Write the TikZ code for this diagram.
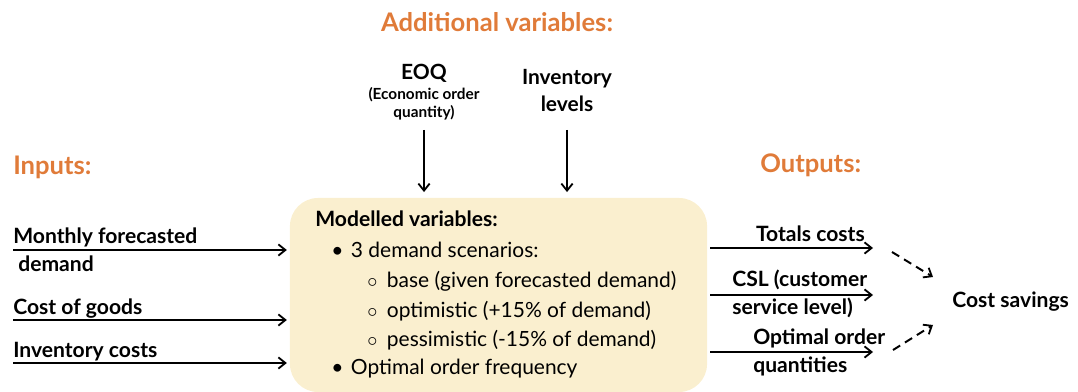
\documentclass[tikz,border=0pt]{standalone}
\usepackage{fontspec}
\setmainfont{Lato}
\usepackage{tikz}
\usetikzlibrary{arrows.meta,positioning}
\definecolor{hdorange}{HTML}{E07B39}
\definecolor{boxcream}{HTML}{FAEFCF}
\tikzset{
  hdtxt/.style={anchor=base west,inner sep=0pt,text=hdorange,font=\fontsize{18.2}{21}\selectfont\bfseries},
  lbltxt/.style={anchor=base west,inner sep=0pt,font=\fontsize{15}{18}\selectfont\bfseries},
  toptxt/.style={anchor=base,inner sep=0pt,font=\fontsize{14.9}{18}\selectfont\bfseries},
  subtxt/.style={anchor=base,inner sep=0pt,font=\fontsize{10.9}{13}\selectfont\bfseries},
  itemtxt/.style={anchor=base west,inner sep=0pt,font=\fontsize{14.9}{18}\selectfont},
  modbox/.style={fill=boxcream,rounded corners=20pt,minimum width=10.425cm,minimum height=4.85cm,inner sep=0pt},
  diredge/.style={-{Straight Barb[length=5pt,width=8pt,line width=1.3pt]},line width=1.4pt,black},
  dashedge/.style={diredge,dashed,dash pattern=on 6pt off 4pt},
}
\newcommand{\itemmark}[1]{\makebox[14pt][l]{#1}}
\begin{document}
\begin{tikzpicture}[x=0.025cm,y=-0.025cm]
  \useasboundingbox (0,0) rectangle (1078,392);
  \node[modbox] (mbox) at (498.5,295) {};
  \node[hdtxt,anchor=base] (hAdd) at (497,32) {Additional variables:};
  \node[hdtxt] (hIn) at (13,175) {Inputs:};
  \node[hdtxt] (hOut) at (760,173) {Outputs:};
  \node[toptxt] (nEOQ) at (424,80) {EOQ};
  \node[subtxt] (nEOQa) at (424,100) {(Economic order};
  \node[subtxt] (nEOQb) at (424,118) {quantity)};
  \node[toptxt] (nInvA) at (567,85) {Inventory};
  \node[toptxt] (nInvB) at (567,112) {levels};
  \node[lbltxt] (mHead) at (315,227) {Modelled variables:};
  \node[itemtxt] (mItA) at (331,258) {\itemmark{\textbullet}3 demand scenarios:};
  \node[itemtxt] (mSubA) at (367,288) {\itemmark{$\circ$}base (given forecasted demand)};
  \node[itemtxt] (mSubB) at (367,318) {\itemmark{$\circ$}optimistic (+15\% of demand)};
  \node[itemtxt] (mSubC) at (367,347) {\itemmark{$\circ$}pessimistic (-15\% of demand)};
  \node[itemtxt] (mItB) at (331,375) {\itemmark{\textbullet}Optimal order frequency};
  \node[lbltxt] (iMonA) at (13,244) {Monthly forecasted};
  \node[lbltxt] (iMonB) at (18,272) {demand};
  \node[lbltxt] (iCog) at (13,315) {Cost of goods};
  \node[lbltxt] (iInv) at (13,358) {Inventory costs};
  \node[lbltxt,anchor=base east] (oTot) at (865,242) {Totals costs};
  \node[lbltxt] (oCslA) at (732,287) {CSL (customer};
  \node[lbltxt] (oCslB) at (732,315) {service level)};
  \node[lbltxt] (oOptA) at (753,345) {Optimal order};
  \node[lbltxt] (oOptB) at (753,373) {quantities};
  \node[lbltxt] (oSav) at (952,308) {Cost savings};
  \coordinate (cEOQ) at (424,130);
  \coordinate (cInv) at (567,130);
  \coordinate (cInA) at (13,250);
  \coordinate (cInB) at (13,320);
  \coordinate (cInC) at (13,363);
  \coordinate (cOutA) at (873,248);
  \coordinate (cOutB) at (873,295);
  \coordinate (cOutC) at (873,352);
  \coordinate (dA) at (892,252);
  \coordinate (dAe) at (933,277);
  \coordinate (dB) at (893,350);
  \coordinate (dBe) at (933,325);
  \draw[diredge,shorten >=4pt] (cEOQ) -- (cEOQ |- mbox.north);
  \draw[diredge,shorten >=4pt] (cInv) -- (cInv |- mbox.north);
  \draw[diredge,shorten >=2pt] (cInA) -- (cInA -| mbox.west);
  \draw[diredge,shorten >=2pt] (cInB) -- (cInB -| mbox.west);
  \draw[diredge,shorten >=2pt] (cInC) -- (cInC -| mbox.west);
  \draw[diredge,shorten <=2pt] (cOutA -| mbox.east) -- (cOutA);
  \draw[diredge,shorten <=2pt] (cOutB -| mbox.east) -- (cOutB);
  \draw[diredge,shorten <=2pt] (cOutC -| mbox.east) -- (cOutC);
  \draw[dashedge] (dA) -- (dAe);
  \draw[dashedge] (dB) -- (dBe);
\end{tikzpicture}
\end{document}
